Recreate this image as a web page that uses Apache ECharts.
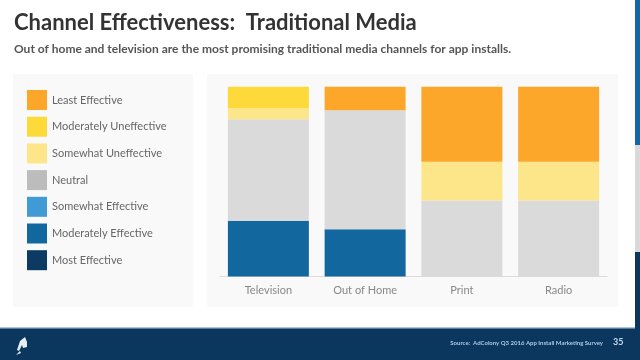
<!DOCTYPE html>
<html>
<head>
<meta charset="utf-8">
<script src="https://cdn.jsdelivr.net/npm/echarts@6/dist/echarts.min.js"></script>
<style>html,body{margin:0;padding:0;background:#fff;}#c{width:640px;height:360px;}</style>
</head>
<body>
<div id="c"></div>
<script>
var categories = ['Television', 'Out of Home', 'Print', 'Radio'];
var seriesNames = ['Most Effective', 'Moderately Effective', 'Somewhat Effective', 'Neutral', 'Somewhat Uneffective', 'Moderately Uneffective', 'Least Effective'];
var mostEffective = [0, 0, 0, 0];
var moderatelyEffective = [29.4, 24.9, 0, 0];
var somewhatEffective = [0, 0, 0, 0];
var neutral = [53.4, 62.7, 40, 40];
var somewhatUneffective = [5.8, 0, 20.5, 20.5];
var moderatelyUneffective = [11.4, 0, 0, 0];
var leastEffective = [0, 12.4, 39.5, 39.5];
var legendOrder = ['Least Effective', 'Moderately Uneffective', 'Somewhat Uneffective', 'Neutral', 'Somewhat Effective', 'Moderately Effective', 'Most Effective'];

var values = [mostEffective, moderatelyEffective, somewhatEffective, neutral, somewhatUneffective, moderatelyUneffective, leastEffective];
var colors = {
  'Most Effective': '#0d3a62',
  'Moderately Effective': '#12679f',
  'Somewhat Effective': '#3f9ad6',
  'Neutral': '#dadada',
  'Somewhat Uneffective': '#fce689',
  'Moderately Uneffective': '#fdd93a',
  'Least Effective': '#fca729'
};
var legendColors = Object.assign({}, colors, { 'Neutral': '#bcbcbc' });

var chart = echarts.init(document.getElementById('c'), null, { renderer: 'canvas' });
var font = 'Lato, "Open Sans", sans-serif';
chart.setOption({
  animation: false,
  textStyle: { fontFamily: font },
  title: {
    text: 'Channel Effectiveness:  Traditional Media',
    subtext: 'Out of home and television are the most promising traditional media channels for app installs.',
    left: 9, top: 7, itemGap: 9,
    textStyle: { fontFamily: font, fontSize: 22, fontWeight: 'bold', color: '#333' },
    subtextStyle: { fontFamily: font, fontSize: 12, fontWeight: 'bold', color: '#555' }
  },
  graphic: [
    { type: 'rect', z: -10, shape: { x: 13, y: 74, width: 180, height: 233 }, style: { fill: '#f9f9f9' }, silent: true },
    { type: 'rect', z: -10, shape: { x: 207, y: 74, width: 411, height: 233 }, style: { fill: '#f9f9f9' }, silent: true },
    { type: 'rect', z: -10, shape: { x: 0, y: 327, width: 640, height: 33 }, style: { fill: '#0b365d' }, silent: true },
    { type: 'rect', z: -9, shape: { x: 0, y: 327, width: 635, height: 1.5 }, style: { fill: '#a9c6dd' }, silent: true },
    { type: 'rect', z: -10, shape: { x: 635, y: 0, width: 5, height: 145 }, style: { fill: '#1267a4' }, silent: true },
    { type: 'rect', z: -10, shape: { x: 635, y: 145, width: 5, height: 107 }, style: { fill: '#d9d9d9' }, silent: true },
    { type: 'rect', z: -10, shape: { x: 635, y: 252, width: 5, height: 108 }, style: { fill: '#0b365d' }, silent: true },
    { type: 'polygon', shape: { points: [[25, 337], [20, 341], [17, 350], [19, 351], [22, 345], [23, 348], [27, 347], [27, 342]] }, style: { fill: '#e8eef5' }, silent: true },
    { type: 'polygon', shape: { points: [[20, 351], [16, 355], [21, 353]] }, style: { fill: '#e8eef5' }, silent: true },
    { type: 'text', x: 603, y: 343, style: { x: 0, y: 0, text: 'Source:  AdColony Q3 2016 App Install Marketing Survey', fill: '#a9c9ea', font: 'bold 6px Lato, sans-serif', align: 'right', verticalAlign: 'middle' }, silent: true },
    { type: 'text', x: 613, y: 342.5, style: { x: 0, y: 0, text: '35', fill: '#c8dcf0', font: 'bold 9px ' + font, align: 'left', verticalAlign: 'middle' }, silent: true }
  ],
  legend: {
    orient: 'vertical', left: 22, top: 85,
    itemWidth: 20, itemHeight: 20, itemGap: 6.7,
    icon: 'rect',
    textStyle: { fontFamily: font, fontSize: 11, color: '#666' },
    data: legendOrder.map(function (n) { return { name: n, itemStyle: { color: legendColors[n] } }; }),
    selectedMode: false
  },
  grid: { left: 220, right: 33, top: 86.7, bottom: 83.5, containLabel: false },
  xAxis: {
    type: 'category', data: categories,
    axisLine: { lineStyle: { color: '#dcdcdc', width: 1 } },
    axisTick: { show: false },
    axisLabel: { color: '#888', fontSize: 11, margin: 8, fontFamily: font }
  },
  yAxis: { type: 'value', min: 0, max: 100, show: false, splitLine: { show: false } },
  series: seriesNames.map(function (n, i) {
    return {
      name: n, type: 'bar', stack: 'total', barWidth: 81,
      itemStyle: { color: colors[n] },
      data: values[i]
    };
  })
});
</script>
</body>
</html>
